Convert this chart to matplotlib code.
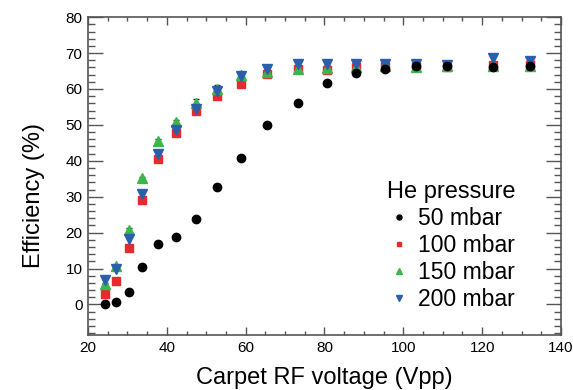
import matplotlib
matplotlib.use("Agg")
import matplotlib.pyplot as plt
from matplotlib.ticker import MultipleLocator

plt.rcParams['font.family'] = ['Liberation Sans', 'DejaVu Sans']

voltage = [24.2, 27.0, 30.3, 33.8, 37.8, 42.3, 47.3, 52.7, 58.8, 65.4,
           73.2, 80.6, 87.9, 95.4, 103.2, 111.2, 122.8, 132.2]

eff_50 = [0.2, 0.6, 3.5, 10.3, 16.9, 18.9, 23.8, 32.7, 40.9, 50.0,
          56.1, 61.6, 64.4, 65.5, 66.3, 66.3, 66.1, 66.3]
eff_100 = [2.9, 6.4, 15.8, 29.0, 40.5, 47.7, 54.0, 58.0, 61.4, 64.3,
           65.7, 65.4, 66.1, 66.5, 66.4, 66.2, 66.6, 66.8]
eff_150 = [5.8, 10.6, 20.8, 35.1, 45.6, 50.7, 56.1, 60.0, 63.8, 64.8,
           65.5, 65.8, 66.0, 66.3, 66.0, 66.3, 66.4, 66.5]
eff_200 = [6.9, 10.0, 18.2, 30.7, 42.0, 48.5, 54.5, 59.4, 63.6, 65.7,
           66.9, 66.9, 67.0, 67.0, 67.0, 66.7, 68.7, 67.8]
err_150 = [0.3, 0.5, 0.5, 0.5, 0.5, 0.8, 1.2, 1.2, 1.0, 0.8,
           0.8, 0.8, 0.8, 0.8, 0.6, 0.6, 0.6, 0.6]

labels = ["50 mbar", "100 mbar", "150 mbar", "200 mbar"]
legend_title = "He pressure"

fig = plt.figure(figsize=(5.73, 3.90), dpi=100)
ax = fig.add_axes([0.1536, 0.141, 0.8254, 0.815])

c_red = '#e82a2f'
c_green = '#3cb54a'
c_blue = '#2b5eab'

ax.errorbar(voltage, eff_150, yerr=err_150, fmt='none', ecolor='#222222',
            elinewidth=0.8, capsize=2, zorder=2)
h100, = ax.plot(voltage, eff_100, 's', color=c_red, ms=6, mec=c_red, zorder=3, label=labels[1])
h150, = ax.plot(voltage, eff_150, '^', color=c_green, ms=6.5, mec=c_green, zorder=4, label=labels[2])
h200, = ax.plot(voltage, eff_200, 'v', color=c_blue, ms=6.5, mec=c_blue, zorder=5, label=labels[3])
h50, = ax.plot(voltage, eff_50, 'o', color='black', ms=6, zorder=6, label=labels[0])

ax.set_xlim(20, 140)
ax.set_ylim(-8.5, 80)
ax.xaxis.set_major_locator(MultipleLocator(20))
ax.xaxis.set_minor_locator(MultipleLocator(5))
ax.yaxis.set_major_locator(MultipleLocator(10))
ax.yaxis.set_minor_locator(MultipleLocator(2))

spc = '#555555'
for s in ax.spines.values():
    s.set_color(spc)
    s.set_linewidth(1.2)

ax.tick_params(axis='both', which='both', direction='in', top=True, right=True,
               color=spc, width=1.0, labelsize=11, pad=4)
ax.tick_params(axis='y', which='major', length=10.5)
ax.tick_params(axis='y', which='minor', length=5)
ax.tick_params(axis='x', which='major', length=6)
ax.tick_params(axis='x', which='minor', length=3)

ax.set_xlabel("Carpet RF voltage (Vpp)", fontsize=17)
ax.set_ylabel("Efficiency (%)", fontsize=17)
ax.xaxis.set_label_coords(0.5, -0.10)
ax.yaxis.set_label_coords(-0.092, 0.44)

leg = ax.legend(handles=[h50, h100, h150, h200], title=legend_title,
                loc='upper right', bbox_to_anchor=(0.947, 0.548), frameon=False,
                fontsize=16.5, title_fontsize=17, markerscale=0.6,
                handlelength=0.8, handletextpad=0.45, labelspacing=0.17,
                borderpad=0.4)
leg._legend_box.align = "right"

fig.savefig("out.png", dpi=100)
